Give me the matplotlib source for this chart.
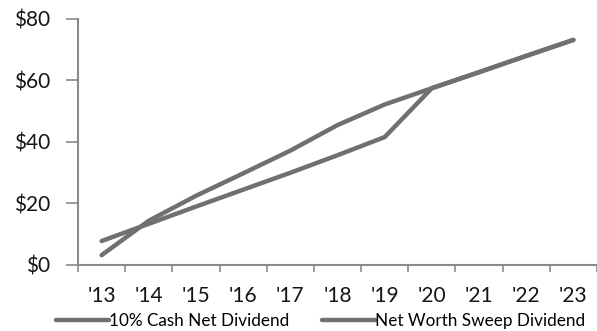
import matplotlib.pyplot as plt
import numpy as np

# dividend per year, two payout schemes
years = ["'13", "'14", "'15", "'16", "'17", "'18", "'19", "'20", "'21", "'22", "'23"]
cash_net = [7.8, 13.4, 19.0, 24.5, 30.0, 35.7, 41.6, 57.5, 62.7, 68.0, 73.2]
sweep = [3.2, 14.4, 22.5, 29.8, 37.2, 45.5, 52.2, 57.5, 62.7, 68.0, 73.2]
y_ticks = [0, 20, 40, 60, 80]

plt.rcParams['font.family'] = ['Lato', 'DejaVu Sans']

line_color = '#707070'
axis_color = '#8a8a8a'

fig = plt.figure(figsize=(5.97, 3.31), dpi=100)
ax = fig.add_axes([0.1307, 0.1994, 0.8693, 0.7432])

x = np.arange(len(years))
ax.plot(x, cash_net, color=line_color, lw=3.2, solid_capstyle='round',
        label='10% Cash Net Dividend')
ax.plot(x, sweep, color=line_color, lw=3.2, solid_capstyle='round',
        label='Net Worth Sweep Dividend')

ax.set_xlim(-0.5, len(years) - 0.5)
ax.set_ylim(0, 80)

# category labels sit between the boundary ticks
ax.set_xticks(np.arange(len(years) + 1) - 0.5)
ax.set_xticklabels([])
ax.set_xticks(x, minor=True)
ax.set_xticklabels(years, minor=True)
ax.tick_params(axis='x', which='major', length=5, width=1.2, color=axis_color)
ax.tick_params(axis='x', which='minor', length=0, pad=15, labelsize=15,
               labelcolor='#151515')

ax.set_yticks(y_ticks)
ax.set_yticklabels(['$%d' % v for v in y_ticks])
ax.tick_params(axis='y', length=9, width=1.2, color=axis_color, pad=11,
               labelsize=15, labelcolor='#151515')

for side in ['top', 'right']:
    ax.spines[side].set_visible(False)
for side in ['left', 'bottom']:
    ax.spines[side].set_color(axis_color)
    ax.spines[side].set_linewidth(1.5)

fig.legend(loc='center', bbox_to_anchor=(0.537, 0.03), ncol=2, frameon=False,
           fontsize=12.3, handlelength=3.1, handletextpad=0.0,
           columnspacing=1.9, borderpad=0)

fig.savefig('out.png', dpi=100)
